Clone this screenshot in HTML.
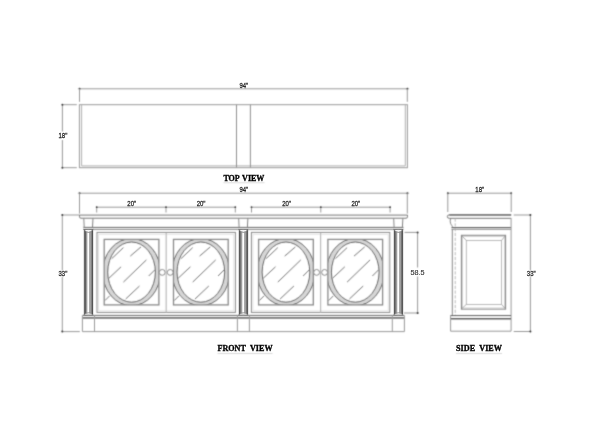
<!DOCTYPE html>
<html><head><meta charset="utf-8"><title>Sideboard drawing</title>
<style>html,body{margin:0;padding:0;background:#fff;width:600px;height:424px;overflow:hidden}svg{display:block}</style>
</head><body>
<svg width="600" height="424" viewBox="0 0 600 424"><defs><linearGradient id="colgrad" x1="0" x2="1" y1="0" y2="0">
<stop offset="0" stop-color="#c8c8c8"/><stop offset="0.08" stop-color="#555"/><stop offset="0.17" stop-color="#555"/><stop offset="0.2" stop-color="#909090"/><stop offset="0.33" stop-color="#a0a0a0"/><stop offset="0.4" stop-color="#e0e0e0"/><stop offset="0.45" stop-color="#fff"/>
<stop offset="0.52" stop-color="#fff"/><stop offset="0.58" stop-color="#b0b0b0"/><stop offset="0.82" stop-color="#959595"/><stop offset="0.87" stop-color="#555"/><stop offset="0.96" stop-color="#555"/><stop offset="1" stop-color="#c8c8c8"/></linearGradient><filter id="bl" x="0" y="0" width="600" height="424" filterUnits="userSpaceOnUse"><feConvolveMatrix order="3" kernelMatrix="1 4 1 4 16 4 1 4 1" divisor="36" edgeMode="none"/></filter></defs>
<rect width="600" height="424" fill="#fff"/><g filter="url(#bl)"><line x1="79.50" y1="88.80" x2="407.50" y2="88.80" stroke="#999" stroke-width="1" />
<circle cx="79.50" cy="88.80" r="1.0" fill="#333"/>
<circle cx="407.50" cy="88.80" r="1.0" fill="#333"/>
<line x1="79.50" y1="88.80" x2="79.50" y2="101.80" stroke="#999" stroke-width="1" />
<line x1="407.30" y1="88.80" x2="407.30" y2="101.80" stroke="#999" stroke-width="1" />
<line x1="62.40" y1="104.70" x2="76.80" y2="104.70" stroke="#999" stroke-width="1" />
<line x1="62.40" y1="167.70" x2="76.80" y2="167.70" stroke="#999" stroke-width="1" />
<line x1="62.40" y1="104.70" x2="62.40" y2="131.50" stroke="#999" stroke-width="1" />
<line x1="62.40" y1="140.00" x2="62.40" y2="167.70" stroke="#999" stroke-width="1" />
<circle cx="62.40" cy="104.70" r="1.0" fill="#333"/>
<circle cx="62.40" cy="167.70" r="1.0" fill="#333"/>
<rect x="79.40" y="104.70" width="328.00" height="63.00" stroke="#999" stroke-width="1" fill="none" />
<line x1="81.60" y1="104.70" x2="81.60" y2="165.90" stroke="#b0b0b0" stroke-width="1" />
<line x1="405.30" y1="104.70" x2="405.30" y2="165.90" stroke="#b0b0b0" stroke-width="1" />
<line x1="81.60" y1="165.90" x2="405.30" y2="165.90" stroke="#b0b0b0" stroke-width="1" />
<line x1="236.50" y1="104.70" x2="236.50" y2="167.50" stroke="#909090" stroke-width="1" />
<line x1="250.40" y1="104.70" x2="250.40" y2="167.50" stroke="#909090" stroke-width="1" />
<line x1="223.50" y1="182.70" x2="264.50" y2="182.70" stroke="#d8d8d8" stroke-width="1" />
<line x1="79.50" y1="193.20" x2="407.50" y2="193.20" stroke="#999" stroke-width="1" />
<circle cx="79.50" cy="193.20" r="1.0" fill="#333"/>
<circle cx="407.50" cy="193.20" r="1.0" fill="#333"/>
<line x1="79.50" y1="193.20" x2="79.50" y2="213.60" stroke="#999" stroke-width="1" />
<line x1="407.30" y1="193.20" x2="407.30" y2="213.60" stroke="#999" stroke-width="1" />
<line x1="96.70" y1="207.20" x2="166.00" y2="207.20" stroke="#999" stroke-width="1" />
<line x1="166.00" y1="207.20" x2="235.30" y2="207.20" stroke="#999" stroke-width="1" />
<line x1="251.50" y1="207.20" x2="320.80" y2="207.20" stroke="#999" stroke-width="1" />
<line x1="320.80" y1="207.20" x2="390.10" y2="207.20" stroke="#999" stroke-width="1" />
<line x1="96.70" y1="207.20" x2="96.70" y2="212.50" stroke="#999" stroke-width="1" />
<circle cx="96.70" cy="207.20" r="0.9" fill="#333"/>
<line x1="166.00" y1="207.20" x2="166.00" y2="212.50" stroke="#999" stroke-width="1" />
<circle cx="166.00" cy="207.20" r="0.9" fill="#333"/>
<line x1="235.30" y1="207.20" x2="235.30" y2="212.50" stroke="#999" stroke-width="1" />
<circle cx="235.30" cy="207.20" r="0.9" fill="#333"/>
<line x1="251.50" y1="207.20" x2="251.50" y2="212.50" stroke="#999" stroke-width="1" />
<circle cx="251.50" cy="207.20" r="0.9" fill="#333"/>
<line x1="320.80" y1="207.20" x2="320.80" y2="212.50" stroke="#999" stroke-width="1" />
<circle cx="320.80" cy="207.20" r="0.9" fill="#333"/>
<line x1="390.10" y1="207.20" x2="390.10" y2="212.50" stroke="#999" stroke-width="1" />
<circle cx="390.10" cy="207.20" r="0.9" fill="#333"/>
<line x1="62.30" y1="215.00" x2="79.30" y2="215.00" stroke="#999" stroke-width="1" />
<line x1="62.30" y1="331.60" x2="79.80" y2="331.60" stroke="#999" stroke-width="1" />
<line x1="62.30" y1="215.00" x2="62.30" y2="331.60" stroke="#999" stroke-width="1" />
<circle cx="62.30" cy="215.00" r="1.0" fill="#333"/>
<circle cx="62.30" cy="331.60" r="1.0" fill="#333"/>
<rect x="58.5" y="270.5" width="8" height="6" fill="#fff" opacity="0.6"/>
<path d="M79.5,215.1 H407.5 V216.8 Q407.5,218.2 406,218.2 H81 Q79.5,218.2 79.5,216.8 Z" stroke="#777" stroke-width="1" fill="none" />
<line x1="83.30" y1="227.40" x2="403.50" y2="227.40" stroke="#6a6a6a" stroke-width="1" />
<line x1="83.30" y1="229.40" x2="403.50" y2="229.40" stroke="#888" stroke-width="1" />
<line x1="83.80" y1="218.30" x2="84.20" y2="227.40" stroke="#888" stroke-width="1" />
<line x1="93.00" y1="218.30" x2="92.50" y2="227.40" stroke="#808080" stroke-width="1" />
<rect x="83.90" y="230" width="9.10" height="84.5" fill="url(#colgrad)"/>
<line x1="238.70" y1="218.30" x2="239.10" y2="227.40" stroke="#888" stroke-width="1" />
<line x1="247.90" y1="218.30" x2="247.40" y2="227.40" stroke="#808080" stroke-width="1" />
<rect x="238.80" y="230" width="9.10" height="84.5" fill="url(#colgrad)"/>
<line x1="393.70" y1="218.30" x2="394.10" y2="227.40" stroke="#888" stroke-width="1" />
<line x1="402.90" y1="218.30" x2="402.40" y2="227.40" stroke="#808080" stroke-width="1" />
<rect x="393.80" y="230" width="9.10" height="84.5" fill="url(#colgrad)"/>
<rect x="97.00" y="232.40" width="138.40" height="80.00" stroke="#8a8a8a" stroke-width="1" fill="none" />
<rect x="98.60" y="234.30" width="135.20" height="76.60" stroke="#e0e0e0" stroke-width="0.9" fill="none" />
<line x1="166.20" y1="233.00" x2="166.20" y2="312.40" stroke="#bbb" stroke-width="1.2" />
<clipPath id="cp60"><rect x="104.20" y="239.2" width="54.70" height="65.8"/></clipPath>
<g clip-path="url(#cp60)"><path d="M102.70,272.10 a28.85,33.60 0 1,0 57.70,0 a28.85,33.60 0 1,0 -57.70,0 Z M107.70,272.10 a23.85,30.10 0 1,0 47.70,0 a23.85,30.10 0 1,0 -47.70,0 Z" fill="#d6d6d6" fill-rule="evenodd" stroke="#4a4a4a" stroke-width="0.9"/></g>
<rect x="104.20" y="239.40" width="54.70" height="65.50" stroke="#8a8a8a" stroke-width="1.3" fill="none" />
<clipPath id="cp63"><rect x="173.50" y="239.2" width="54.70" height="65.8"/></clipPath>
<g clip-path="url(#cp63)"><path d="M172.00,272.10 a28.85,33.60 0 1,0 57.70,0 a28.85,33.60 0 1,0 -57.70,0 Z M177.00,272.10 a23.85,30.10 0 1,0 47.70,0 a23.85,30.10 0 1,0 -47.70,0 Z" fill="#d6d6d6" fill-rule="evenodd" stroke="#4a4a4a" stroke-width="0.9"/></g>
<rect x="173.50" y="239.40" width="54.70" height="65.50" stroke="#8a8a8a" stroke-width="1.3" fill="none" />
<circle cx="162.20" cy="272.4" r="2.9" stroke="#777" stroke-width="0.9" fill="#fff"/>
<circle cx="170.20" cy="272.4" r="2.9" stroke="#777" stroke-width="0.9" fill="#fff"/>
<rect x="251.40" y="232.40" width="138.40" height="80.00" stroke="#8a8a8a" stroke-width="1" fill="none" />
<rect x="253.00" y="234.30" width="135.20" height="76.60" stroke="#e0e0e0" stroke-width="0.9" fill="none" />
<line x1="320.60" y1="233.00" x2="320.60" y2="312.40" stroke="#bbb" stroke-width="1.2" />
<clipPath id="cp71"><rect x="258.60" y="239.2" width="54.70" height="65.8"/></clipPath>
<g clip-path="url(#cp71)"><path d="M257.10,272.10 a28.85,33.60 0 1,0 57.70,0 a28.85,33.60 0 1,0 -57.70,0 Z M262.10,272.10 a23.85,30.10 0 1,0 47.70,0 a23.85,30.10 0 1,0 -47.70,0 Z" fill="#d6d6d6" fill-rule="evenodd" stroke="#4a4a4a" stroke-width="0.9"/></g>
<rect x="258.60" y="239.40" width="54.70" height="65.50" stroke="#8a8a8a" stroke-width="1.3" fill="none" />
<clipPath id="cp74"><rect x="327.90" y="239.2" width="54.70" height="65.8"/></clipPath>
<g clip-path="url(#cp74)"><path d="M326.40,272.10 a28.85,33.60 0 1,0 57.70,0 a28.85,33.60 0 1,0 -57.70,0 Z M331.40,272.10 a23.85,30.10 0 1,0 47.70,0 a23.85,30.10 0 1,0 -47.70,0 Z" fill="#d6d6d6" fill-rule="evenodd" stroke="#4a4a4a" stroke-width="0.9"/></g>
<rect x="327.90" y="239.40" width="54.70" height="65.50" stroke="#8a8a8a" stroke-width="1.3" fill="none" />
<circle cx="316.60" cy="272.4" r="2.9" stroke="#777" stroke-width="0.9" fill="#fff"/>
<circle cx="324.60" cy="272.4" r="2.9" stroke="#777" stroke-width="0.9" fill="#fff"/>
<line x1="111.80" y1="258.60" x2="123.40" y2="247.60" stroke="#6a6a6a" stroke-width="0.9" />
<line x1="130.30" y1="256.10" x2="141.00" y2="246.90" stroke="#6a6a6a" stroke-width="0.9" />
<line x1="108.80" y1="278.30" x2="121.10" y2="266.80" stroke="#6a6a6a" stroke-width="0.9" />
<line x1="123.40" y1="282.10" x2="146.40" y2="259.90" stroke="#6a6a6a" stroke-width="0.9" />
<line x1="148.70" y1="276.00" x2="154.80" y2="269.90" stroke="#6a6a6a" stroke-width="0.9" />
<line x1="125.70" y1="299.00" x2="139.50" y2="286.00" stroke="#6a6a6a" stroke-width="0.9" />
<line x1="105.00" y1="300.50" x2="109.60" y2="295.90" stroke="#6a6a6a" stroke-width="0.9" />
<line x1="181.10" y1="258.60" x2="192.70" y2="247.60" stroke="#6a6a6a" stroke-width="0.9" />
<line x1="199.60" y1="256.10" x2="210.30" y2="246.90" stroke="#6a6a6a" stroke-width="0.9" />
<line x1="178.10" y1="278.30" x2="190.40" y2="266.80" stroke="#6a6a6a" stroke-width="0.9" />
<line x1="192.70" y1="282.10" x2="215.70" y2="259.90" stroke="#6a6a6a" stroke-width="0.9" />
<line x1="218.00" y1="276.00" x2="224.10" y2="269.90" stroke="#6a6a6a" stroke-width="0.9" />
<line x1="195.00" y1="299.00" x2="208.80" y2="286.00" stroke="#6a6a6a" stroke-width="0.9" />
<line x1="174.30" y1="300.50" x2="178.90" y2="295.90" stroke="#6a6a6a" stroke-width="0.9" />
<line x1="266.20" y1="258.60" x2="277.80" y2="247.60" stroke="#6a6a6a" stroke-width="0.9" />
<line x1="284.70" y1="256.10" x2="295.40" y2="246.90" stroke="#6a6a6a" stroke-width="0.9" />
<line x1="263.20" y1="278.30" x2="275.50" y2="266.80" stroke="#6a6a6a" stroke-width="0.9" />
<line x1="277.80" y1="282.10" x2="300.80" y2="259.90" stroke="#6a6a6a" stroke-width="0.9" />
<line x1="303.10" y1="276.00" x2="309.20" y2="269.90" stroke="#6a6a6a" stroke-width="0.9" />
<line x1="280.10" y1="299.00" x2="293.90" y2="286.00" stroke="#6a6a6a" stroke-width="0.9" />
<line x1="259.40" y1="300.50" x2="264.00" y2="295.90" stroke="#6a6a6a" stroke-width="0.9" />
<line x1="335.50" y1="258.60" x2="347.10" y2="247.60" stroke="#6a6a6a" stroke-width="0.9" />
<line x1="354.00" y1="256.10" x2="364.70" y2="246.90" stroke="#6a6a6a" stroke-width="0.9" />
<line x1="332.50" y1="278.30" x2="344.80" y2="266.80" stroke="#6a6a6a" stroke-width="0.9" />
<line x1="347.10" y1="282.10" x2="370.10" y2="259.90" stroke="#6a6a6a" stroke-width="0.9" />
<line x1="372.40" y1="276.00" x2="378.50" y2="269.90" stroke="#6a6a6a" stroke-width="0.9" />
<line x1="349.40" y1="299.00" x2="363.20" y2="286.00" stroke="#6a6a6a" stroke-width="0.9" />
<line x1="328.70" y1="300.50" x2="333.30" y2="295.90" stroke="#6a6a6a" stroke-width="0.9" />
<line x1="82.40" y1="315.40" x2="404.40" y2="315.40" stroke="#5a5a5a" stroke-width="0.9" />
<rect x="82.4" y="317.1" width="322" height="1.6" fill="#6a6a6a"/>
<line x1="82.40" y1="331.60" x2="404.40" y2="331.60" stroke="#999" stroke-width="1" />
<line x1="82.40" y1="315.50" x2="82.40" y2="331.60" stroke="#999" stroke-width="1" />
<line x1="94.50" y1="315.50" x2="94.50" y2="331.60" stroke="#999" stroke-width="1" />
<line x1="237.40" y1="315.50" x2="237.40" y2="331.60" stroke="#999" stroke-width="1" />
<line x1="249.40" y1="315.50" x2="249.40" y2="331.60" stroke="#999" stroke-width="1" />
<line x1="392.30" y1="315.50" x2="392.30" y2="331.60" stroke="#999" stroke-width="1" />
<line x1="404.40" y1="315.50" x2="404.40" y2="331.60" stroke="#999" stroke-width="1" />
<line x1="404.50" y1="232.40" x2="417.60" y2="232.40" stroke="#999" stroke-width="1" />
<line x1="404.00" y1="313.00" x2="418.30" y2="313.00" stroke="#999" stroke-width="1" />
<line x1="417.60" y1="232.40" x2="417.60" y2="267.50" stroke="#999" stroke-width="1" />
<line x1="417.60" y1="276.50" x2="417.60" y2="313.00" stroke="#999" stroke-width="1" />
<circle cx="417.60" cy="232.40" r="1.0" fill="#333"/>
<circle cx="417.60" cy="313.00" r="1.0" fill="#333"/>
<line x1="217.50" y1="353.50" x2="272.50" y2="353.50" stroke="#d8d8d8" stroke-width="1" />
<line x1="447.80" y1="193.20" x2="511.20" y2="193.20" stroke="#999" stroke-width="1" />
<circle cx="447.80" cy="193.20" r="1.0" fill="#333"/>
<circle cx="511.20" cy="193.20" r="1.0" fill="#333"/>
<line x1="447.80" y1="193.20" x2="447.80" y2="212.00" stroke="#999" stroke-width="1" />
<line x1="511.20" y1="193.20" x2="511.20" y2="212.00" stroke="#999" stroke-width="1" />
<path d="M511.2,214.9 H449.3 Q447.3,214.9 447.3,216.6 Q447.3,218.3 449.3,218.3 H511.2" stroke="#777" stroke-width="1.0" fill="none" />
<line x1="449.30" y1="215.00" x2="511.20" y2="215.00" stroke="#555" stroke-width="1.2" />
<path d="M450.6,218.4 C449.9,220.6 450.1,223.0 451.3,224.8 C452.2,226.0 452.6,226.8 452.3,227.6" stroke="#777" stroke-width="0.9" fill="none" />
<line x1="451.50" y1="227.50" x2="511.00" y2="227.50" stroke="#666" stroke-width="1" />
<line x1="451.50" y1="229.20" x2="511.00" y2="229.20" stroke="#777" stroke-width="1" />
<line x1="452.30" y1="229.20" x2="452.30" y2="315.50" stroke="#888" stroke-width="1" />
<line x1="455.20" y1="218.50" x2="455.20" y2="315.50" stroke="#aaa" stroke-width="0.8" stroke-dasharray="3.2,1.6"/>
<line x1="511.10" y1="218.30" x2="511.10" y2="331.20" stroke="#999" stroke-width="1" />
<rect x="461.40" y="235.30" width="44.20" height="73.80" stroke="#7a7a7a" stroke-width="1.0" fill="none" />
<rect x="462.50" y="236.40" width="42.00" height="71.60" stroke="#cfcfcf" stroke-width="0.9" fill="none" />
<rect x="466.30" y="240.40" width="35.30" height="64.00" stroke="#aaa" stroke-width="0.8" fill="none" />
<line x1="461.40" y1="235.30" x2="466.30" y2="240.40" stroke="#999" stroke-width="0.8" />
<line x1="505.60" y1="235.30" x2="501.60" y2="240.40" stroke="#999" stroke-width="0.8" />
<line x1="461.40" y1="309.10" x2="466.30" y2="304.40" stroke="#999" stroke-width="0.8" />
<line x1="505.60" y1="309.10" x2="501.60" y2="304.40" stroke="#999" stroke-width="0.8" />
<line x1="450.40" y1="315.60" x2="511.00" y2="315.60" stroke="#4a4a4a" stroke-width="0.9" />
<rect x="450.6" y="318.0" width="60.4" height="1.5" fill="#606060"/>
<line x1="450.60" y1="315.50" x2="450.60" y2="331.20" stroke="#999" stroke-width="1" />
<line x1="450.60" y1="331.20" x2="511.00" y2="331.20" stroke="#999" stroke-width="1" />
<line x1="513.70" y1="215.00" x2="531.00" y2="215.00" stroke="#999" stroke-width="1" />
<line x1="513.70" y1="331.50" x2="531.00" y2="331.50" stroke="#999" stroke-width="1" />
<line x1="530.40" y1="215.00" x2="530.40" y2="331.50" stroke="#999" stroke-width="1" />
<circle cx="530.40" cy="215.00" r="1.0" fill="#333"/>
<circle cx="530.40" cy="331.50" r="1.0" fill="#333"/>
<rect x="526.5" y="270.5" width="8" height="6" fill="#fff" opacity="0.6"/>
<line x1="456.00" y1="353.50" x2="502.00" y2="353.50" stroke="#d8d8d8" stroke-width="1" />
</g><rect x="83.90" y="229.6" width="9.10" height="85.2" fill="url(#colgrad)"/>
<path d="M83.70,229.4 H93.20 Q88.45,235.4 83.70,229.4 Z" fill="#f4f4f4" stroke="#666" stroke-width="0.75"/>
<path d="M83.70,315.0 H93.20 Q88.45,310.6 83.70,315.0 Z" fill="#fff" stroke="#777" stroke-width="0.8"/>
<rect x="238.80" y="229.6" width="9.10" height="85.2" fill="url(#colgrad)"/>
<path d="M238.60,229.4 H248.10 Q243.35,235.4 238.60,229.4 Z" fill="#f4f4f4" stroke="#666" stroke-width="0.75"/>
<path d="M238.60,315.0 H248.10 Q243.35,310.6 238.60,315.0 Z" fill="#fff" stroke="#777" stroke-width="0.8"/>
<rect x="393.80" y="229.6" width="9.10" height="85.2" fill="url(#colgrad)"/>
<path d="M393.60,229.4 H403.10 Q398.35,235.4 393.60,229.4 Z" fill="#f4f4f4" stroke="#666" stroke-width="0.75"/>
<path d="M393.60,315.0 H403.10 Q398.35,310.6 393.60,315.0 Z" fill="#fff" stroke="#777" stroke-width="0.8"/><g opacity="0.995"><text transform="translate(243.80,87.70) scale(0.86,1)" x="0" y="0" font-family="Liberation Sans" font-size="7.0" font-weight="normal" fill="#222" stroke="#222" stroke-width="0.25" text-anchor="middle" >94"</text>
<text transform="translate(62.90,138.30) scale(0.86,1)" x="0" y="0" font-family="Liberation Sans" font-size="7.0" font-weight="normal" fill="#222" stroke="#222" stroke-width="0.25" text-anchor="middle" >18"</text>
<text transform="translate(243.90,180.60) scale(1,1)" x="0" y="0" font-family="Liberation Serif" font-size="9" font-weight="bold" fill="#000" stroke="#000" stroke-width="0.35" text-anchor="middle" word-spacing="1" textLength="41" lengthAdjust="spacingAndGlyphs">TOP VIEW</text>
<text transform="translate(243.80,191.90) scale(0.86,1)" x="0" y="0" font-family="Liberation Sans" font-size="7.0" font-weight="normal" fill="#222" stroke="#222" stroke-width="0.25" text-anchor="middle" >94"</text>
<text transform="translate(131.75,205.80) scale(0.86,1)" x="0" y="0" font-family="Liberation Sans" font-size="7.0" font-weight="normal" fill="#222" stroke="#222" stroke-width="0.25" text-anchor="middle" >20"</text>
<text transform="translate(201.05,205.80) scale(0.86,1)" x="0" y="0" font-family="Liberation Sans" font-size="7.0" font-weight="normal" fill="#222" stroke="#222" stroke-width="0.25" text-anchor="middle" >20"</text>
<text transform="translate(286.55,205.80) scale(0.86,1)" x="0" y="0" font-family="Liberation Sans" font-size="7.0" font-weight="normal" fill="#222" stroke="#222" stroke-width="0.25" text-anchor="middle" >20"</text>
<text transform="translate(355.85,205.80) scale(0.86,1)" x="0" y="0" font-family="Liberation Sans" font-size="7.0" font-weight="normal" fill="#222" stroke="#222" stroke-width="0.25" text-anchor="middle" >20"</text>
<text transform="translate(62.90,275.60) scale(0.86,1)" x="0" y="0" font-family="Liberation Sans" font-size="7.0" font-weight="normal" fill="#222" stroke="#222" stroke-width="0.25" text-anchor="middle" >33"</text>
<text transform="translate(417.60,274.90) scale(1,1)" x="0" y="0" font-family="Liberation Sans" font-size="7.2" font-weight="normal" fill="#333" stroke="#333" stroke-width="0.15" text-anchor="middle" >58.5</text>
<text transform="translate(245.00,351.30) scale(1,1)" x="0" y="0" font-family="Liberation Serif" font-size="9" font-weight="bold" fill="#000" stroke="#000" stroke-width="0.35" text-anchor="middle" textLength="55" lengthAdjust="spacingAndGlyphs">FRONT&#160;&#160;VIEW</text>
<text transform="translate(479.70,191.80) scale(0.86,1)" x="0" y="0" font-family="Liberation Sans" font-size="7.0" font-weight="normal" fill="#222" stroke="#222" stroke-width="0.25" text-anchor="middle" >18"</text>
<text transform="translate(531.20,275.60) scale(0.86,1)" x="0" y="0" font-family="Liberation Sans" font-size="7.0" font-weight="normal" fill="#222" stroke="#222" stroke-width="0.25" text-anchor="middle" >33"</text>
<text transform="translate(479.00,351.30) scale(1,1)" x="0" y="0" font-family="Liberation Serif" font-size="9" font-weight="bold" fill="#000" stroke="#000" stroke-width="0.35" text-anchor="middle" textLength="46" lengthAdjust="spacingAndGlyphs">SIDE&#160;&#160;VIEW</text></g></svg>
</body></html>
